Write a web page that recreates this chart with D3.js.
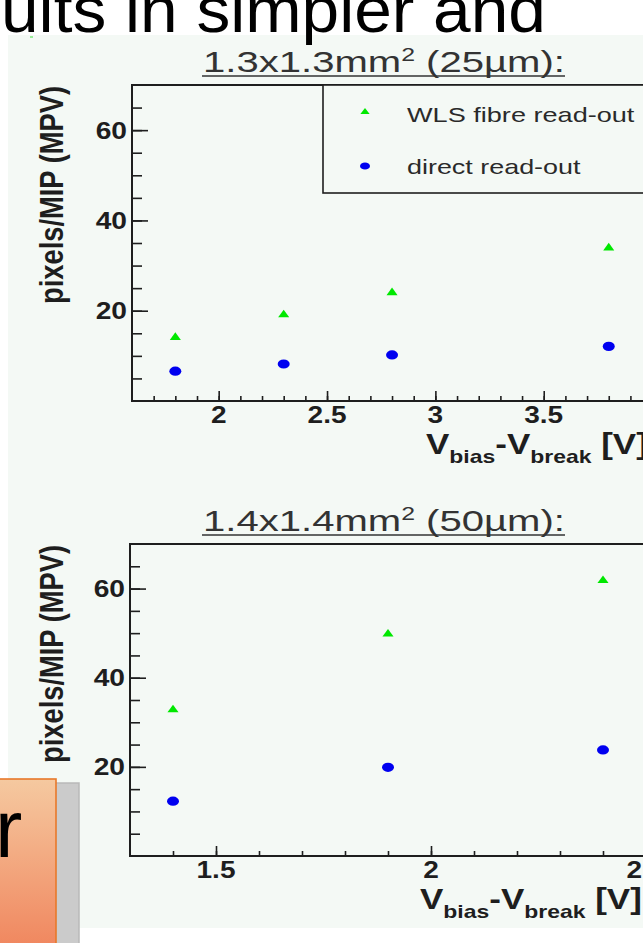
<!DOCTYPE html>
<html><head><meta charset="utf-8">
<script src="https://cdn.jsdelivr.net/npm/d3@7"></script>
<style>html,body{margin:0;padding:0;background:#fff;overflow:hidden}</style>
</head><body><svg id="c" width="643" height="943"></svg>
<script>
// ---- data ----
const topVoltage = [1.8, 2.3, 2.8, 3.8];
const topWLS     = [14.1, 19.1, 24.0, 33.9];
const topDirect  = [6.6, 8.2, 10.2, 12.1];
const botVoltage = [1.4, 1.9, 2.4];
const botWLS     = [32.8, 49.8, 61.8];
const botDirect  = [12.3, 19.9, 23.8];
const topXTicks  = [2, 2.5, 3, 3.5, 4];
const botXTicks  = [1.5, 2, 2.5];
const yTicks     = [20, 40, 60];
const legendLabels = ["WLS fibre read-out", "direct read-out"];
const titleMain  = ["1.3x1.3mm", "1.4x1.4mm"];
const titleTail  = [" (25µm):", " (50µm):"];
const yTitle = "pixels/MIP (MPV)";
const slideText = "ults in simpler and";

const FONT = "'Liberation Sans', Arial, Helvetica, sans-serif";
const GREEN = "#00e800", BLUE = "#0000f0", INK = "#1e1e1e";
const svg = d3.select("#c");

function fitText(parent, x, y, target, build, anchor) {
  const g = parent.append("g").attr("transform", `translate(${x},${y})`);
  const t = g.append("text").attr("text-anchor", anchor || "start").attr("font-family", FONT);
  build(t);
  const w = t.node().getBBox().width;
  if (w > 0 && target) t.attr("transform", `scale(${target / w},1)`);
  return g;
}
function stretchText(parent, x, y, sx, build, anchor) {
  const g = parent.append("g").attr("transform", `translate(${x},${y}) scale(${sx},1)`);
  const t = g.append("text").attr("text-anchor", anchor || "start").attr("font-family", FONT);
  build(t);
  return g;
}

// panel background
svg.append("rect").attr("x", 8).attr("y", 35).attr("width", 640).attr("height", 893).attr("fill", "#f4f9f5");
svg.append("rect").attr("x", 30).attr("y", 36).attr("width", 3).attr("height", 2).attr("fill", "#9e9");

// slide heading fragment
fitText(svg, 1, 32, 545, t => t.attr("font-size", 64).attr("fill", "#000").text(slideText));

function plot(cfg) {
  const x = d3.scaleLinear().domain(cfg.xDomain).range([cfg.left, cfg.right]);
  const y = d3.scaleLinear().domain([0, 70]).range([cfg.bottom, cfg.top]);
  const g = svg.append("g");
  const styleAxis = s => { s.select(".domain").remove(); s.selectAll("line").attr("stroke", INK).attr("stroke-width", 1.6); };

  const xMinor = d3.range(Math.round(cfg.xDomain[0] * 10) + 1, Math.round(cfg.xDomain[1] * 10)).map(v => v / 10);
  g.append("g").attr("transform", `translate(0,${cfg.bottom})`)
    .call(d3.axisBottom(x).tickValues(xMinor).tickSize(-5).tickFormat("")).call(styleAxis);
  g.append("g").attr("transform", `translate(0,${cfg.bottom})`)
    .call(d3.axisBottom(x).tickValues(cfg.xTicks).tickSize(-10).tickFormat("")).call(styleAxis);
  const yMinor = d3.range(5, 70, 5);
  g.append("g").attr("transform", `translate(${cfg.left},0)`)
    .call(d3.axisLeft(y).tickValues(yMinor).tickSize(-10).tickFormat("")).call(styleAxis);
  g.append("g").attr("transform", `translate(${cfg.left},0)`)
    .call(d3.axisLeft(y).tickValues(yTicks).tickSize(-16).tickFormat("")).call(styleAxis);

  // frame
  g.append("rect").attr("x", cfg.left).attr("y", cfg.top)
    .attr("width", cfg.right - cfg.left).attr("height", cfg.bottom - cfg.top)
    .attr("fill", "none").attr("stroke", INK).attr("stroke-width", 2);

  // tick labels
  yTicks.forEach(v => stretchText(g, cfg.left - 5, y(v) + 8.5, 1.2,
    t => t.attr("font-size", 23.5).attr("font-weight", "bold").attr("fill", INK).text(v), "end"));
  cfg.xTicks.forEach(v => stretchText(g, x(v), cfg.bottom + 22, 1.22,
    t => t.attr("font-size", 23).attr("font-weight", "bold").attr("fill", INK).text(v), "middle"));

  // title
  fitText(g, 203, cfg.top - 13, 362, t => {
    t.attr("font-size", 29).attr("fill", "#333");
    t.append("tspan").text(titleMain[cfg.i]);
    t.append("tspan").attr("font-size", 18).attr("dy", -11).text("2");
    t.append("tspan").attr("font-size", 29).attr("dy", 11).text(titleTail[cfg.i]);
  });
  g.append("line").attr("x1", 202).attr("x2", 565).attr("y1", cfg.top - 9).attr("y2", cfg.top - 9)
    .attr("stroke", "#333").attr("stroke-width", 1.5);

  // y title
  const yt = g.append("g").attr("transform", `translate(63,${(cfg.top + cfg.top + 220) / 2}) rotate(-90)`);
  fitText(yt, 0, 0, 218, t => t.attr("font-size", 34).attr("font-weight", "bold").attr("fill", INK).text(yTitle), "middle");

  // x title
  fitText(g, cfg.xtX, cfg.bottom + 53, 222, t => {
    t.attr("font-size", 29).attr("font-weight", "bold").attr("fill", INK);
    t.append("tspan").text("V");
    t.append("tspan").attr("font-size", 19).attr("dy", 9).text("bias");
    t.append("tspan").attr("font-size", 29).attr("dy", -9).text("-V");
    t.append("tspan").attr("font-size", 19).attr("dy", 9).text("break");
    t.append("tspan").attr("font-size", 29).attr("dy", -9).text(" [V]");
  });

  // points
  const tri = d3.symbol(d3.symbolTriangle).size(34);
  g.selectAll(".tri").data(cfg.volt.map((v, i) => [v, cfg.wls[i]])).join("path")
    .attr("d", tri).attr("fill", GREEN)
    .attr("transform", d => `translate(${x(d[0])},${y(d[1])}) scale(1.25,1)`);
  g.selectAll(".dot").data(cfg.volt.map((v, i) => [v, cfg.direct[i]])).join("ellipse")
    .attr("cx", d => x(d[0])).attr("cy", d => y(d[1])).attr("rx", 6).attr("ry", 4.6).attr("fill", BLUE);

  if (cfg.legend) {
    g.append("rect").attr("x", 323).attr("y", cfg.top).attr("width", 400).attr("height", 108)
      .attr("fill", "#f4f9f5").attr("stroke", INK).attr("stroke-width", 1.6);
    g.append("path").attr("d", d3.symbol(d3.symbolTriangle).size(22)()).attr("fill", GREEN)
      .attr("transform", `translate(365,112) scale(1.3,1)`);
    g.append("ellipse").attr("cx", 365).attr("cy", 166).attr("rx", 5).attr("ry", 3.6).attr("fill", BLUE);
    fitText(g, 407, 122, 228, t => t.attr("font-size", 20.5).attr("fill", "#2a2a2a").text(legendLabels[0]));
    fitText(g, 407, 174, 174, t => t.attr("font-size", 20.5).attr("fill", "#2a2a2a").text(legendLabels[1]));
  }
}

plot({i: 0, xDomain: [1.6, 4.1], left: 132, right: 132 + 2.5 * 216.7, top: 85, bottom: 401,
      xTicks: topXTicks, volt: topVoltage, wls: topWLS, direct: topDirect, legend: true, xtX: 426});
plot({i: 1, xDomain: [1.3, 2.6], left: 130, right: 130 + 1.3 * 430, top: 544, bottom: 856,
      xTicks: botXTicks, volt: botVoltage, wls: botWLS, direct: botDirect, legend: false, xtX: 420});

// bottom-left slide elements
const defs = svg.append("defs");
const grad = defs.append("linearGradient").attr("id", "og").attr("x1", 0).attr("y1", 0).attr("x2", 0).attr("y2", 1);
grad.append("stop").attr("offset", "0%").attr("stop-color", "#f5c9a0");
grad.append("stop").attr("offset", "100%").attr("stop-color", "#f0845c");
svg.append("rect").attr("x", -2).attr("y", 783).attr("width", 81).attr("height", 170)
  .attr("fill", "#cbcbcb").attr("stroke", "#b9b9b9").attr("stroke-width", 1.5);
svg.append("rect").attr("x", -2).attr("y", 779).attr("width", 58).attr("height", 175)
  .attr("fill", "url(#og)").attr("stroke", "#e8782a").attr("stroke-width", 1.6);
svg.append("text").attr("x", -5).attr("y", 857).attr("font-family", FONT).attr("font-size", 82)
  .attr("fill", "#000").text("r");
</script></body></html>
